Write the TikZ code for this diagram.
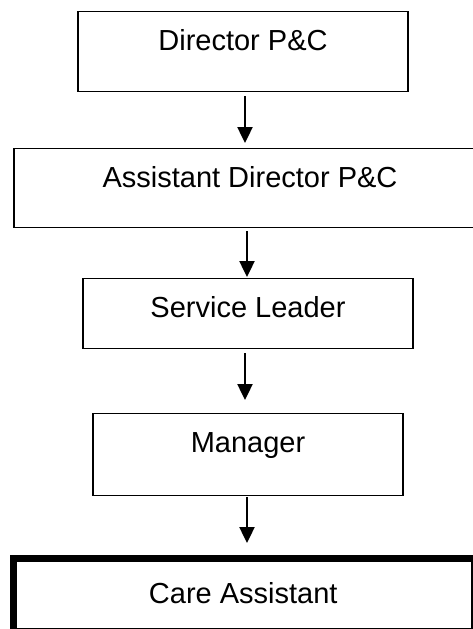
\documentclass[tikz,border=0pt]{standalone}
\usepackage{fontspec}
\setsansfont{Liberation Sans}
\usetikzlibrary{arrows.meta}
\newcommand{\postfont}{\sffamily\fontsize{14.5pt}{17pt}\selectfont}
\tikzset{
  post/.style={
    rectangle,
    draw=black,
    line width=0.7pt,
    fill=white,
    anchor=north,
    inner xsep=0pt,
    inner ysep=0pt,
    align=center,
    text height=19.5pt,
    font=\postfont
  },
  lastpost/.style={
    post,
    text height=21.95pt,
    text depth=12.8pt
  },
  arrow/.style={
    -{Triangle[length=8pt,width=7.5pt]},
    line width=1.2pt,
    draw=black
  }
}

\begin{document}
\begin{tikzpicture}[x=0.5pt,y=-0.5pt]
  \clip (0,0) rectangle (473,629);
  \node[post, minimum width=165pt, text depth=20.5pt] (dir) at (243,11) {Director P\&C};
  \node[post, minimum width=236pt, text depth=20pt] (asst) at (250,148) {Assistant Director P\&C};
  \node[post, minimum width=165pt, text depth=15.5pt] (lead) at (248,278) {Service Leader};
  \node[post, minimum width=155pt, text depth=21.5pt] (mgr) at (248,413) {Manager};
  \node[lastpost, minimum width=228.75pt] (care) at (243.25,558.5) {Care Assistant};
  % heavy top and left edge of the last box
  \draw[line width=3.5pt] (care.south west) -- (care.north west) -- (care.north east);

  \draw[arrow, shorten <=2pt, shorten >=2.5pt] ([xshift=1pt]dir.south) -- ([xshift=1pt]dir.south |- asst.north);
  \draw[arrow, shorten <=1.5pt, shorten >=0.5pt] ([xshift=-1.5pt]asst.south) -- ([xshift=-1.5pt]asst.south |- lead.north);
  \draw[arrow, shorten <=2pt, shorten >=6.5pt] ([xshift=-1.5pt]lead.south) -- ([xshift=-1.5pt]lead.south |- mgr.north);
  \draw[arrow, shorten <=0.5pt, shorten >=7.75pt] ([xshift=-0.5pt]mgr.south) -- ([xshift=-0.5pt]mgr.south |- care.north);
\end{tikzpicture}
\end{document}
